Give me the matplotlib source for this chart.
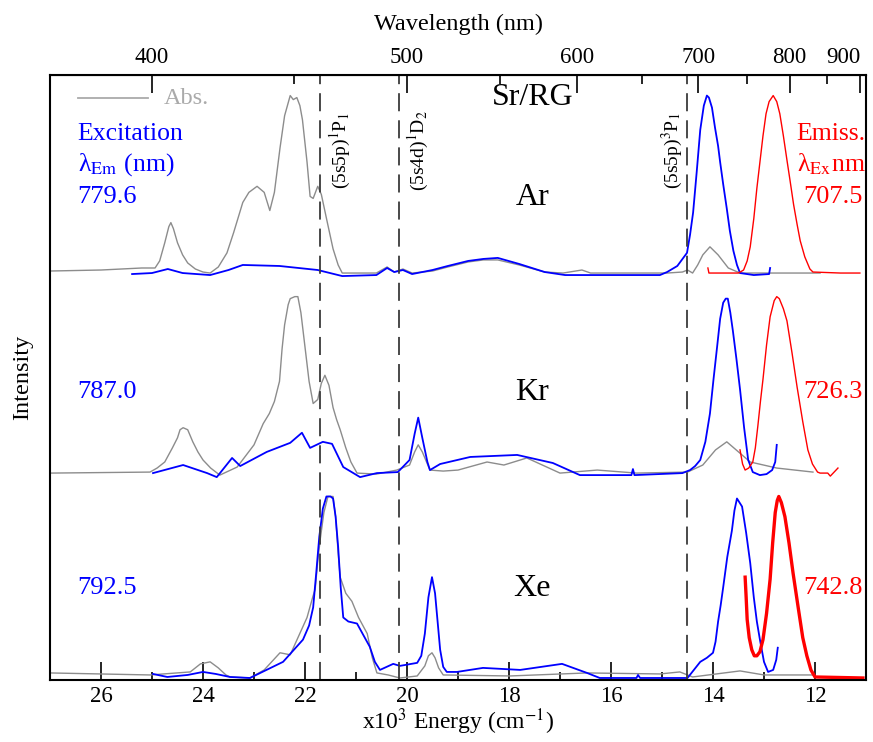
import matplotlib
matplotlib.use('Agg')
import matplotlib.pyplot as plt
import numpy as np

plt.rcParams['font.family'] = ['Liberation Serif', 'DejaVu Serif']
plt.rcParams['mathtext.fontset'] = 'stix'

# Energies in 10^3 cm-1, intensities normalised to the panel height
# --- Ar ---
ar_abs_E = [27.0, 26.0, 25.2, 24.94, 24.85, 24.75, 24.67, 24.63, 24.58, 24.5, 24.4, 24.3, 24.15, 24.0,
            23.86, 23.7, 23.53, 23.4, 23.22, 23.1, 22.94, 22.8, 22.69, 22.6, 22.49, 22.4, 22.29, 22.23,
            22.16, 22.1, 22.05, 21.96, 21.9, 21.84, 21.75, 21.68, 21.57, 21.45, 21.35, 21.27, 21.0, 20.6,
            20.39, 20.25, 20.08, 19.9, 19.5, 19.2, 18.8, 18.5, 18.22, 17.8, 17.3, 16.94, 16.57, 16.4, 15.5,
            14.9, 14.6, 14.5, 14.4, 14.3, 14.2, 14.06, 13.9, 13.7, 13.47, 12.5, 11.9]
ar_abs_I = [0.01, 0.015, 0.025, 0.025, 0.06, 0.15, 0.23, 0.25, 0.22, 0.15, 0.09, 0.05, 0.02, 0.005,
            0.0, 0.03, 0.10, 0.20, 0.35, 0.40, 0.43, 0.40, 0.31, 0.40, 0.62, 0.78, 0.88, 0.86,
            0.87, 0.83, 0.76, 0.55, 0.38, 0.37, 0.43, 0.39, 0.26, 0.12, 0.04, 0.0, 0.0, 0.0,
            0.03, 0.005, 0.02, 0.0, 0.01, 0.03, 0.055, 0.065, 0.065, 0.04, 0.005, 0.0, 0.015, 0.0, 0.0,
            0.0, 0.005, 0.015, 0.0, 0.04, 0.09, 0.13, 0.09, 0.025, 0.0, 0.0, 0.0]
ar_exc_E = [25.39, 25.0, 24.69, 24.4, 23.86, 23.5, 23.22, 22.5, 21.75, 21.27, 20.6, 20.39, 20.25, 20.08,
            19.9, 19.5, 19.2, 18.8, 18.5, 18.22, 17.8, 17.3, 16.9, 15.5, 15.04, 14.9, 14.7, 14.51, 14.45,
            14.39, 14.32, 14.25, 14.18, 14.12, 14.08, 14.02, 13.96, 13.9, 13.86, 13.8, 13.73, 13.67, 13.6,
            13.53, 13.47, 13.2, 12.9, 12.88]
ar_exc_I = [-0.005, 0.0, 0.02, 0.0, -0.01, 0.015, 0.04, 0.035, 0.015, -0.015, -0.01, 0.025, 0.005, 0.015,
            -0.005, 0.015, 0.035, 0.06, 0.07, 0.075, 0.045, 0.005, -0.01, -0.01, -0.01, 0.005, 0.035, 0.10, 0.19,
            0.30, 0.50, 0.71, 0.83, 0.88, 0.87, 0.82, 0.72, 0.63, 0.55, 0.44, 0.32, 0.21, 0.11,
            0.04, 0.0, -0.01, -0.005, 0.025]
ar_emi_E = [14.1, 14.08, 13.5, 13.4, 13.33, 13.27, 13.2, 13.14, 13.08, 13.02, 12.96, 12.9, 12.82, 12.75,
            12.69, 12.62, 12.55, 12.49, 12.42, 12.35, 12.29, 12.2, 12.1, 12.04, 11.5, 11.12]
ar_emi_I = [0.025, 0.0, 0.0, 0.015, 0.06, 0.13, 0.27, 0.42, 0.55, 0.68, 0.79, 0.85, 0.88, 0.85,
            0.79, 0.68, 0.56, 0.46, 0.34, 0.24, 0.16, 0.08, 0.02, 0.005, 0.0, 0.0]

# --- Kr ---
kr_abs_E = [27.0, 25.04, 24.9, 24.75, 24.6, 24.5, 24.45, 24.39, 24.3, 24.2, 24.1, 24.0, 23.85, 23.67,
            23.33, 23.0, 22.82, 22.7, 22.6, 22.5, 22.45, 22.4, 22.33, 22.29, 22.2, 22.14, 22.08, 22.0,
            21.92, 21.84, 21.75, 21.68, 21.61, 21.53, 21.45, 21.38, 21.31, 21.2, 21.1, 20.98, 20.6, 20.2,
            19.95, 19.85, 19.78, 19.7, 19.55, 19.29, 19.0, 18.43, 18.1, 17.65, 17.0, 16.27, 15.5, 14.5,
            14.2, 13.95, 13.73, 13.5, 13.27, 12.75, 12.04]
kr_abs_I = [0.005, 0.01, 0.03, 0.06, 0.13, 0.18, 0.22, 0.23, 0.22, 0.16, 0.11, 0.07, 0.03, -0.005,
            0.035, 0.145, 0.25, 0.30, 0.36, 0.46, 0.62, 0.74, 0.84, 0.87, 0.88, 0.88, 0.80, 0.63,
            0.46, 0.35, 0.37, 0.45, 0.49, 0.44, 0.33, 0.27, 0.22, 0.13, 0.06, 0.005, 0.0, 0.02,
            0.045, 0.11, 0.145, 0.11, 0.02, 0.015, 0.02, 0.06, 0.045, 0.08, 0.005, 0.02, 0.005, 0.01,
            0.045, 0.12, 0.16, 0.11, 0.06, 0.03, 0.01]
kr_exc_E = [24.98, 24.39, 23.92, 23.73, 23.43, 23.27, 22.75, 22.29, 22.06, 21.9, 21.65, 21.47, 21.25,
            20.92, 20.59, 20.18, 19.95, 19.85, 19.78, 19.7, 19.6, 19.55, 19.35, 18.76, 17.84, 17.14, 16.61,
            15.6, 15.57, 15.54, 14.6, 14.45, 14.35, 14.25, 14.15, 14.06, 13.99, 13.92, 13.86, 13.8, 13.75,
            13.71, 13.66, 13.61, 13.54, 13.47, 13.39, 13.31, 13.22, 13.08, 12.95, 12.84, 12.78, 12.75]
kr_exc_I = [0.005, 0.045, 0.005, -0.015, 0.08, 0.04, 0.11, 0.155, 0.205, 0.13, 0.16, 0.15, 0.035,
            -0.015, 0.005, 0.01, 0.07, 0.20, 0.28, 0.18, 0.06, 0.02, 0.05, 0.085, 0.095, 0.055, -0.005,
            -0.005, 0.025, -0.005, 0.005, 0.02, 0.04, 0.07, 0.16, 0.30, 0.47, 0.63, 0.77, 0.85, 0.87,
            0.87, 0.80, 0.71, 0.57, 0.42, 0.23, 0.07, 0.01, -0.005, 0.0, 0.02, 0.06, 0.145]
kr_emi_E = [13.47, 13.42, 13.37, 13.3, 13.22, 13.17, 13.12, 13.07, 13.02, 12.95, 12.88, 12.8, 12.75,
            12.7, 12.62, 12.55, 12.45, 12.35, 12.24, 12.14, 12.05, 11.95, 11.9, 11.75, 11.7, 11.55]
kr_emi_I = [0.12, 0.05, 0.02, 0.03, 0.06, 0.13, 0.24, 0.36, 0.47, 0.64, 0.78, 0.86, 0.88,
            0.87, 0.82, 0.76, 0.60, 0.43, 0.26, 0.12, 0.05, 0.01, 0.005, 0.005, -0.01, 0.03]

# --- Xe ---
xe_abs_E = [27.0, 25.04, 24.25, 24.05, 23.86, 23.7, 23.55, 23.47, 23.08, 22.8, 22.49, 22.29, 21.96, 21.85,
            21.8, 21.75, 21.7, 21.63, 21.55, 21.45, 21.4, 21.35, 21.31, 21.2, 21.08, 20.95, 20.78, 20.68,
            20.59, 20.37, 20.14, 19.8, 19.65, 19.58, 19.51, 19.45, 19.38, 19.29, 17.98, 16.47, 15.04,
            14.65, 14.4, 13.47, 13.0, 12.04]
xe_abs_I = [0.025, 0.015, 0.03, 0.07, 0.08, 0.05, 0.015, 0.005, 0.0, 0.04, 0.125, 0.115, 0.30, 0.40,
            0.44, 0.58, 0.69, 0.82, 0.90, 0.90, 0.80, 0.62, 0.50, 0.42, 0.38, 0.30, 0.22, 0.10,
            0.025, 0.015, 0.0, 0.01, 0.06, 0.11, 0.125, 0.10, 0.05, 0.015, 0.01, 0.025, 0.02,
            0.03, 0.005, 0.035, 0.015, 0.015]
xe_exc_E = [24.98, 24.7, 24.3, 24.0, 23.75, 23.47, 23.08, 22.43, 22.04, 21.92, 21.84, 21.78, 21.72, 21.65,
            21.58, 21.5, 21.45, 21.4, 21.35, 21.3, 21.25, 21.15, 20.98, 20.85, 20.73, 20.63, 20.53, 20.27,
            20.14, 19.8, 19.72, 19.65, 19.58, 19.51, 19.45, 19.4, 19.35, 19.29, 19.22, 19.02, 18.51, 17.78,
            16.96, 16.47, 16.22, 15.5, 15.47, 15.43, 14.5, 14.25, 14.12, 14.0, 13.95, 13.9, 13.85, 13.8,
            13.72, 13.63, 13.58, 13.53, 13.48, 13.43, 13.35, 13.27, 13.2, 13.14, 13.08, 13.0, 12.92, 12.82,
            12.76, 12.73]
xe_exc_I = [0.02, 0.005, 0.015, 0.03, 0.02, 0.005, 0.0, 0.08, 0.19, 0.26, 0.35, 0.52, 0.70, 0.84,
            0.90, 0.90, 0.89, 0.80, 0.65, 0.45, 0.30, 0.28, 0.27, 0.21, 0.155, 0.08, 0.04, 0.07,
            0.06, 0.075, 0.11, 0.22, 0.40, 0.50, 0.42, 0.28, 0.14, 0.055, 0.03, 0.03, 0.05, 0.04,
            0.07, 0.025, 0.0, 0.0, 0.015, 0.0, 0.0, 0.08, 0.10, 0.125, 0.18, 0.28, 0.36, 0.45,
            0.60, 0.73, 0.83, 0.89, 0.87, 0.85, 0.72, 0.57, 0.40, 0.28, 0.19, 0.08, 0.03, 0.04,
            0.09, 0.15]
xe_emi_E = [13.37, 13.35, 13.33, 13.29, 13.24, 13.19, 13.14, 13.08, 13.02, 12.95, 12.88, 12.83, 12.78,
            12.74, 12.71, 12.66, 12.59, 12.51, 12.43, 12.33, 12.24, 12.16, 12.08, 12.0, 11.06]
xe_emi_I = [0.50, 0.40, 0.29, 0.20, 0.14, 0.11, 0.11, 0.13, 0.19, 0.32, 0.49, 0.67, 0.82,
            0.88, 0.90, 0.87, 0.80, 0.67, 0.52, 0.35, 0.20, 0.11, 0.04, 0.005, 0.0]

# vertical offsets of the three stacked panels
offsets = {'Ar': 2.018, 'Kr': 1.021, 'Xe': 0.01}
# Sr atomic levels (10^3 cm-1)
levels = [21.698, 20.150, 14.504]
level_labels = ['(5s5p)$^1$P$_1$', '(5s4d)$^1$D$_2$', '(5s5p)$^3$P$_1$']
em_wl = ['779.6', '787.0', '792.5']
ex_wl = ['707.5', '726.3', '742.8']
hosts = ['Ar', 'Kr', 'Xe']

fig = plt.figure(figsize=(8.73, 7.42), dpi=100)
ax = fig.add_axes([50/873, 1-680/742, 816/873, 605/742])

gray = '#8c8c8c'
spectra = [
    ('Ar', ar_abs_E, ar_abs_I, ar_exc_E, ar_exc_I, ar_emi_E, ar_emi_I, 1.0),
    ('Kr', kr_abs_E, kr_abs_I, kr_exc_E, kr_exc_I, kr_emi_E, kr_emi_I, 1.0),
    ('Xe', xe_abs_E, xe_abs_I, xe_exc_E, xe_exc_I, xe_emi_E, xe_emi_I, 2.4),
]
for name, aE, aI, xE, xI, eE, eI, elw in spectra:
    off = offsets[name]
    ax.plot(aE, np.array(aI) + off, color=gray, lw=1.0)
    ax.plot(xE, np.array(xI) + off, color='blue', lw=1.3)
    ax.plot(eE, np.array(eI) + off, color='red', lw=elw)

for e in levels:
    ax.axvline(e, color='#3a3a3a', lw=1.3, dashes=(10, 5))

ax.set_xlim(27, 11)
ax.set_ylim(0, 3.0)
ax.set_yticks([])
ax.set_xticks([26, 24, 22, 20, 18, 16, 14, 12])
ax.set_xticks([25, 23, 21, 19, 17, 15, 13], minor=True)
ax.tick_params(axis='x', which='major', direction='in', length=13, width=1.2, labelsize=16.5, pad=4)
ax.tick_params(axis='x', which='minor', direction='in', length=6, width=1.2)
for s in ax.spines.values():
    s.set_linewidth(1.5)
ax.set_xlabel('x10$^3$ Energy (cm$^{-1}$)', fontsize=17, labelpad=0)
ax.set_ylabel('Intensity', fontsize=17.5, labelpad=12)

conv = lambda v: 1e4 / np.asarray(v, dtype=float)
top = ax.secondary_xaxis('top', functions=(conv, conv))
top.set_xticks([400, 500, 600, 700, 800, 900])
top.set_xticks([450, 550, 650, 750, 850], minor=True)
top.tick_params(axis='x', which='major', direction='in', length=13, width=1.2, labelsize=16.5, pad=5)
top.tick_params(axis='x', which='minor', direction='in', length=6.5, width=1.2)
top.set_xlabel('Wavelength (nm)', fontsize=17.5, labelpad=12)
fig.canvas.draw()
for t in top.xaxis.get_major_ticks():
    if t.label2.get_text() == '900':
        t.label2.set_horizontalalignment('right')
        t.label2.set_x(t.label2.get_position()[0])

T = ax.transAxes
ax.text(0.592, 0.962, 'Sr/RG', fontsize=23, ha='center', va='center', transform=T)
host_y = [0.798, 0.476, 0.152]
for h, y, em, ex in zip(hosts, host_y, em_wl, ex_wl):
    ax.text(0.591, y, h, fontsize=23, ha='center', va='center', transform=T)
    ax.text(0.034, y, em, fontsize=19, color='blue', ha='left', va='center', transform=T)
    ax.text(0.996, y, ex, fontsize=19, color='red', ha='right', va='center', transform=T)

ax.text(0.034, 0.903, 'Excitation', fontsize=18.5, color='blue', ha='left', va='center', transform=T)
ax.text(0.034, 0.852, 'λ$_{\\mathrm{Em}}$ (nm)', fontsize=18.5, color='blue', ha='left', va='center', transform=T)
ax.text(0.915, 0.903, 'Emiss.', fontsize=18.5, color='red', ha='left', va='center', transform=T)
ax.text(0.915, 0.852, 'λ$_{\\mathrm{Ex}}$nm', fontsize=18.5, color='red', ha='left', va='center', transform=T)

ax.plot([0.034, 0.12], [0.962, 0.962], color='#aaaaaa', lw=1.3, transform=T)
ax.text(0.14, 0.961, 'Abs.', fontsize=17.5, color='#aaaaaa', ha='left', va='center', transform=T)

label_x = [0.356, 0.451, 0.763]
for lx, txt in zip(label_x, level_labels):
    ax.text(lx, 0.875, txt, fontsize=14, rotation=90, ha='center', va='center', transform=T)

fig.savefig('out.png', dpi=100)
